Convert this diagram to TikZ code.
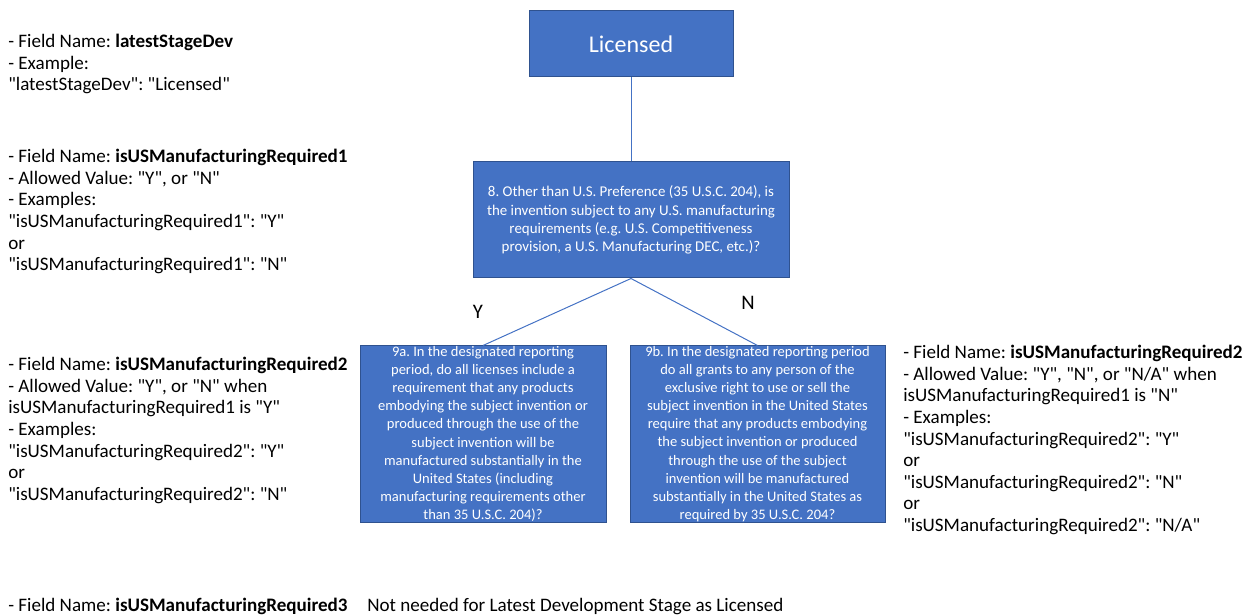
\documentclass[tikz,border=0pt]{standalone}
\usepackage{fontspec}
\setmainfont[Ligatures=TeXOff]{Carlito}
\frenchspacing
\usetikzlibrary{positioning}
\definecolor{boxblue}{HTML}{4472C4}
\definecolor{boxedge}{HTML}{2F528F}
\definecolor{ink}{HTML}{000000}
\tikzset{
  every node/.style={text=ink},
  qbox/.style={
    draw=boxedge,
    fill=boxblue,
    text=white,
    align=center,
    inner xsep=2pt,
    inner ysep=0pt,
    line width=0.75pt,
    font=\fontsize{11.2}{13.6}\selectfont
  },
  qsmall/.style={qbox, font=\fontsize{10.9}{13.6}\selectfont},
  field/.style={anchor=north west, align=left, inner sep=0pt, font=\fontsize{14.3}{16.2}\selectfont},
  branch/.style={font=\fontsize{15.5}{18}\selectfont},
  link/.style={draw=boxblue, line width=0.75pt}
}

\begin{document}
\begin{tikzpicture}[x=0.75pt, y=-0.75pt]
  \useasboundingbox (0,0) rectangle (1253,616);

  % Decision boxes
  \node[qbox, minimum width=153pt, minimum height=49.5pt, font=\fontsize{18}{22}\selectfont]
    (licensed) at (631,44) {Licensed};
  \node[qbox, minimum width=237pt, minimum height=87pt] (q8) at (631,220)
    {8. Other than U.S. Preference (35 U.S.C. 204), is\\
     the invention subject to any U.S. manufacturing\\
     requirements (e.g. U.S. Competitiveness\\
     provision, a U.S. Manufacturing DEC, etc.)?};
  \node[qsmall, minimum width=184.5pt, minimum height=132pt] (q9a) at (483,434)
    {9a. In the designated reporting\\
     period, do all licenses include a\\
     requirement that any products\\
     embodying the subject invention or\\
     produced through the use of the\\
     subject invention will be\\
     manufactured substantially in the\\
     United States (including\\
     manufacturing requirements other\\
     than 35 U.S.C. 204)?};
  \node[qsmall, minimum width=191.25pt, minimum height=132pt] (q9b) at (757.5,434)
    {9b. In the designated reporting period\\
     do all grants to any person of the\\
     exclusive right to use or sell the\\
     subject invention in the United States\\
     require that any products embodying\\
     the subject invention or produced\\
     through the use of the subject\\
     invention will be manufactured\\
     substantially in the United States as\\
     required by 35 U.S.C. 204?};

  % Connectors
  \draw[link] (licensed) -- (q8);
  \draw[link] (q8.south) -- (q9a.north);
  \draw[link] (q8.south) -- (q9b.north);
  \node[branch] (yes) at (478,312) {Y};
  \node[branch] (no) at (748,303) {N};

  % Field notes
  \node[field] (f1) at (8,34)
    {- Field Name: \textbf{latestStageDev}\\
     - Example:\\
     "latestStageDev": "Licensed"};
  \node[field] (f2) at (8,149)
    {- Field Name: \textbf{isUSManufacturingRequired1}\\
     - Allowed Value: "Y", or "N"\\
     - Examples:\\
     "isUSManufacturingRequired1": "Y"\\
     or\\
     "isUSManufacturingRequired1": "N"};
  \node[field] (f3) at (8,357)
    {- Field Name: \textbf{isUSManufacturingRequired2}\\
     - Allowed Value: "Y", or "N" when\\
     isUSManufacturingRequired1 is "Y"\\
     - Examples:\\
     "isUSManufacturingRequired2": "Y"\\
     or\\
     "isUSManufacturingRequired2": "N"};
  \node[field] (f4) at (903,345)
    {- Field Name: \textbf{isUSManufacturingRequired2}\\
     - Allowed Value: "Y", "N", or "N/A" when\\
     isUSManufacturingRequired1 is "N"\\
     - Examples:\\
     "isUSManufacturingRequired2": "Y"\\
     or\\
     "isUSManufacturingRequired2": "N"\\
     or\\
     "isUSManufacturingRequired2": "N/A"};
  \node[field] (f5) at (8,598)
    {- Field Name: \textbf{isUSManufacturingRequired3}};
  \node[field] (f5note) at (367,598)
    {Not needed for Latest Development Stage as Licensed};
\end{tikzpicture}
\end{document}
